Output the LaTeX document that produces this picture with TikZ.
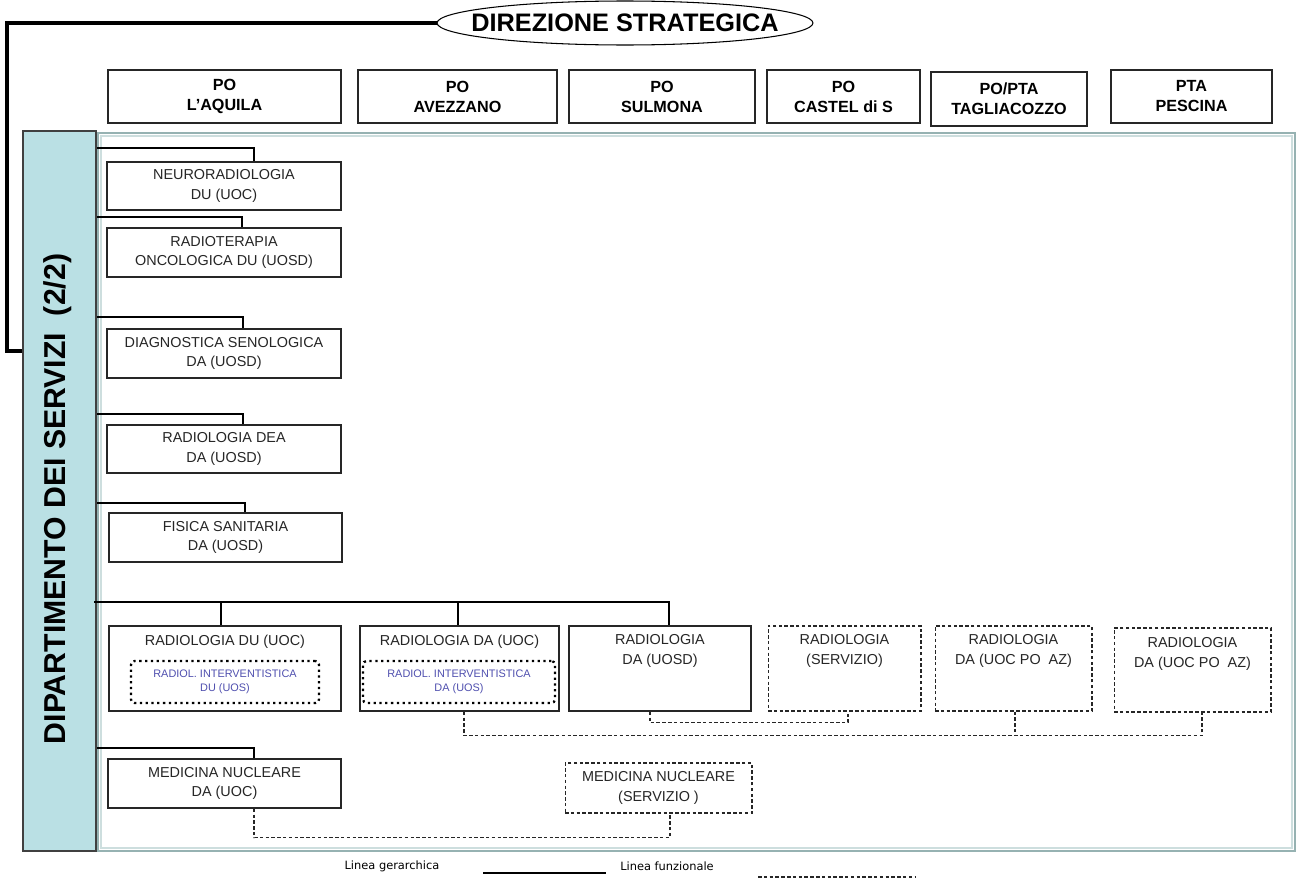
\documentclass[tikz,border=0pt]{standalone}
\usepackage{fontspec}
\setmainfont{Liberation Sans}
\newfontfamily\legendfont{DejaVu Sans}
\usetikzlibrary{shapes.geometric,calc}
\definecolor{depfill}{RGB}{186,224,228}
\definecolor{frameout}{RGB}{150,178,178}
\definecolor{framein}{RGB}{205,222,222}
\definecolor{uosblue}{RGB}{80,80,175}
\tikzset{
  box/.style={draw=black!85, line width=0.8pt, fill=white, inner sep=0pt, align=center,
              font=\fontsize{8.2}{11}\selectfont, text=black!85},
  head/.style={box, text=black, font=\bfseries\fontsize{9.2}{11.4}\selectfont},
  dbox/.style={box, dash pattern=on 2pt off 1.3pt, line width=0.6pt},
  uos/.style={draw=black, line width=1.3pt, dotted, rounded corners=2pt, inner sep=0pt,
              align=center, text=uosblue, font=\fontsize{6.2}{8}\selectfont},
  lbl/.style={inner sep=0pt, align=center, font=\fontsize{8.2}{11}\selectfont, text=black!85},
  hier/.style={draw=black, line width=1.1pt},
  func/.style={draw=black!85, line width=0.6pt, dash pattern=on 2pt off 1.3pt},
  thick/.style={draw=black, line width=2.2pt},
}
\begin{document}
\begin{tikzpicture}[x=0.02cm,y=-0.02cm]
\useasboundingbox (0,0) rectangle (1297,879);

% Direzione strategica
\node[ellipse, draw=black, line width=0.6pt, fill=white, inner sep=0pt,
      minimum width=7.52cm, minimum height=0.88cm] (dir) at (625,23) {};
\node[inner sep=0pt, font=\bfseries\fontsize{14.4}{16}\selectfont] (dirt) at (dir.center) {DIREZIONE STRATEGICA};

% Header boxes
\node[head, minimum width=4.66cm, minimum height=1.06cm] (hA) at (224.5,96.5) {PO\\L’AQUILA};
\node[head, minimum width=3.98cm, minimum height=1.06cm] (hB) at (457.5,96.5) {PO\\AVEZZANO};
\node[head, minimum width=3.72cm, minimum height=1.06cm] (hC) at (662,96.5) {PO\\SULMONA};
\node[head, minimum width=3.06cm, minimum height=1.06cm] (hD) at (843.5,96.5) {PO\\CASTEL di S};
\node[head, minimum width=3.12cm, minimum height=1.08cm] (hE) at (1009,99) {PO/PTA\\TAGLIACOZZO};
\node[head, minimum width=3.22cm, minimum height=1.06cm] (hF) at (1191.5,96.5) {PTA\\PESCINA};

% Frame
\draw[frameout, line width=1.3pt] (98,133) rectangle (1295,851);
\draw[framein, line width=0.8pt] (101,136) rectangle (1292,848);

% Dipartimento box
\node[draw=black!75, line width=0.7pt, fill=depfill, minimum width=1.46cm, minimum height=14.4cm, inner sep=0pt] (dep) at (59.5,491) {};
\node[rotate=90, inner sep=0pt, font=\bfseries\fontsize{17.2}{19}\selectfont] (deplbl) at (58,499) {DIPARTIMENTO DEI SERVIZI\ \ (2/2)};

% thick hierarchical line from direzione
\coordinate (tk) at (7,351);
\draw[thick] (dir.west) -| (tk) -- (dep.west |- tk);

% Left column units
\node[box, minimum width=4.68cm, minimum height=0.96cm] (n1) at (224,186) {NEURORADIOLOGIA\\DU (UOC)};
\node[box, minimum width=4.68cm, minimum height=0.98cm] (n2) at (224,252.5) {RADIOTERAPIA\\ONCOLOGICA DU (UOSD)};
\node[box, minimum width=4.68cm, minimum height=0.98cm] (n3) at (224,353.5) {DIAGNOSTICA SENOLOGICA\\DA (UOSD)};
\node[box, minimum width=4.68cm, minimum height=0.96cm] (n4) at (224,449) {RADIOLOGIA DEA\\DA (UOSD)};
\node[box, minimum width=4.66cm, minimum height=0.98cm] (n5) at (225.5,537.5) {FISICA SANITARIA\\DA (UOSD)};

\coordinate (s1) at (97,148);
\coordinate (s2) at (97,217);
\coordinate (s3) at (97,317);
\coordinate (s4) at (97,414);
\coordinate (s5) at (97,503);
\coordinate (s6) at (94,602);
\coordinate (s7) at (97,748);
\draw[hier] (s1) -| ([xshift=0.6cm]n1.north);
\draw[hier] (s2) -| ([xshift=0.36cm]n2.north);
\draw[hier] (s3) -| ([xshift=0.38cm]n3.north);
\draw[hier] (s4) -| ([xshift=0.38cm]n4.north);
\draw[hier] (s5) -| ([xshift=0.39cm]n5.north);

% Radiology row
\node[box, minimum width=4.64cm, minimum height=1.7cm] (r1) at (225,668.5) {};
\node[box, minimum width=3.98cm, minimum height=1.7cm] (r2) at (459.5,668.5) {};
\node[box, minimum width=3.64cm, minimum height=1.7cm] (r3) at (660,668.5) {};
\node[dbox, minimum width=3.06cm, minimum height=1.7cm] (r4) at (844.5,668.5) {};
\node[dbox, minimum width=3.14cm, minimum height=1.7cm] (r5) at (1013.5,668.5) {};
\node[dbox, minimum width=3.14cm, minimum height=1.68cm] (r6) at (1192.5,670) {};

\node[lbl] (r1t) at (225,642) {RADIOLOGIA DU (UOC)};
\node[lbl] (r2t) at (459.5,642) {RADIOLOGIA DA (UOC)};
\node[lbl] (r3t) at (660,651) {RADIOLOGIA\\DA (UOSD)};
\node[lbl] (r4t) at (844.5,651) {RADIOLOGIA\\(SERVIZIO)};
\node[lbl] (r5t) at (1013.5,651) {RADIOLOGIA\\DA (UOC PO\ \ AZ)};
\node[lbl] (r6t) at (1192.5,654) {RADIOLOGIA\\DA (UOC PO\ \ AZ)};

\node[uos, minimum width=3.76cm, minimum height=0.84cm] (i1) at (225,682) {RADIOL. INTERVENTISTICA\\DU (UOS)};
\node[uos, minimum width=3.84cm, minimum height=0.84cm] (i2) at (459,682) {RADIOL. INTERVENTISTICA\\DA (UOS)};

\draw[hier] ([xshift=-0.08cm]r1.north |- s6) -- ([xshift=-0.08cm]r1.north);
\draw[hier] ([xshift=-0.03cm]r2.north |- s6) -- ([xshift=-0.03cm]r2.north);
\draw[hier] (s6) -| ([xshift=0.18cm]r3.north);

% functional links in radiology row
\draw[func] ([xshift=-0.2cm]r3.south) -- ++(0,11) -| ([xshift=0.07cm]r4.south);
\draw[func] ([xshift=0.09cm]r2.south) -- ++(0,24) -| ([xshift=0.19cm]r6.south);
\draw[func] ([xshift=0.03cm]r5.south) -- ++(0,24);

% Medicina nucleare
\node[box, minimum width=4.66cm, minimum height=0.98cm] (m1) at (224.5,783.5) {MEDICINA NUCLEARE\\DA (UOC)};
\node[dbox, minimum width=3.74cm, minimum height=1.0cm] (m2) at (658.5,788) {MEDICINA NUCLEARE\\(SERVIZIO )};
\draw[hier] (s7) -| ([xshift=0.59cm]m1.north);
\draw[func] ([xshift=0.59cm]m1.south) -- ++(0,29) -| ([xshift=0.23cm]m2.south);

% Legend
\node[inner sep=0pt, font=\legendfont\fontsize{6.5}{8}\selectfont] (lg1) at (392,866) {Linea gerarchica};
\node[inner sep=0pt, font=\legendfont\fontsize{6.5}{8}\selectfont] (lg2) at (667,866) {Linea funzionale};
\coordinate (la) at (483,873);
\coordinate (lb) at (606,873);
\coordinate (lc) at (758,877);
\coordinate (ld) at (915,877);
\draw[hier] (la) -- (lb);
\draw[func] (lc) -- (ld);
\end{tikzpicture}
\end{document}
